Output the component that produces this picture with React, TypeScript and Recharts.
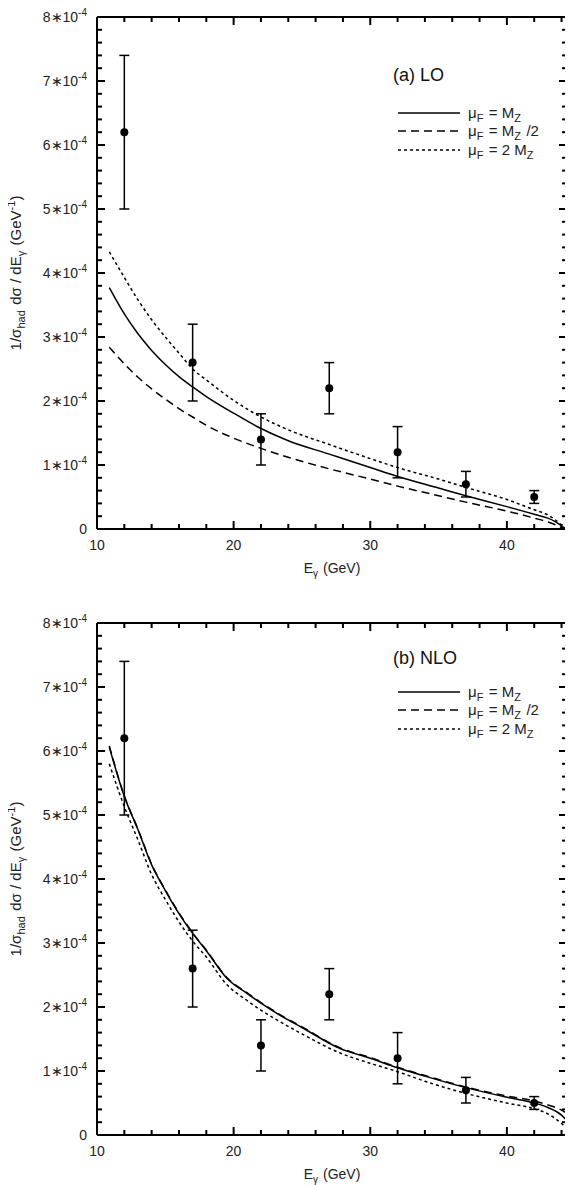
import React from 'react';
import { ComposedChart, Line, Scatter, ErrorBar, XAxis, YAxis, ReferenceLine } from 'recharts';

// all cross sections are in units of 1e-4 GeV^-1
const FONT = '"Liberation Sans", Arial, sans-serif';

// measured points (same in both panels)
const DATA_E = [12, 17, 22, 27, 32, 37, 42];
const DATA_VAL = [6.2, 2.6, 1.4, 2.2, 1.2, 0.7, 0.5];
const DATA_ERR = [1.2, 0.6, 0.4, 0.4, 0.4, 0.2, 0.1];

// (a) LO curves
const LO_E = [10.9, 12, 13, 14, 15, 16, 17, 18, 20, 22, 24, 27, 30, 32, 35, 37, 40, 42, 43, 43.5, 44];
const LO_MZ = [3.77, 3.36, 3.05, 2.79, 2.57, 2.38, 2.22, 2.07, 1.81, 1.57, 1.38, 1.17, 0.96, 0.82, 0.64, 0.52, 0.35, 0.23, 0.17, 0.12, 0.05];
const LO_HALF = [2.84, 2.58, 2.37, 2.19, 2.03, 1.88, 1.75, 1.62, 1.42, 1.26, 1.12, 0.94, 0.78, 0.67, 0.52, 0.42, 0.28, 0.17, 0.11, 0.07, 0.02];
const LO_TWICE = [4.33, 3.93, 3.58, 3.27, 3.0, 2.75, 2.5, 2.33, 2.01, 1.75, 1.55, 1.32, 1.1, 0.96, 0.78, 0.65, 0.46, 0.3, 0.22, 0.15, 0.06];
const LO_END = [44.3, 44.2, 44.35]; // where each LO curve reaches zero

// (b) NLO curves
const NLO_E = [10.9, 12, 13, 14, 15, 16, 17, 18, 19.5, 21, 22, 23.4, 25, 27.8, 30, 32, 34, 37, 40, 42, 43, 44, 44.4];
const NLO_MZ = [6.06, 5.29, 4.77, 4.22, 3.82, 3.46, 3.15, 2.88, 2.45, 2.21, 2.06, 1.87, 1.68, 1.35, 1.2, 1.05, 0.92, 0.74, 0.59, 0.5, 0.43, 0.31, 0.22];
const NLO_HALF = [6.08, 5.3, 4.78, 4.23, 3.83, 3.47, 3.16, 2.89, 2.46, 2.22, 2.07, 1.88, 1.69, 1.36, 1.21, 1.06, 0.93, 0.75, 0.61, 0.53, 0.47, 0.39, 0.34];
const NLO_TWICE = [5.8, 5.13, 4.61, 4.07, 3.68, 3.33, 3.03, 2.78, 2.35, 2.1, 1.95, 1.77, 1.58, 1.28, 1.12, 0.99, 0.84, 0.65, 0.5, 0.41, 0.33, 0.18, 0.1];

const X_MIN = 10;
const X_MAX = 44.4;
const Y_MIN = 0;
const Y_MAX = 8;
const X_TICKS = [10, 12, 14, 16, 18, 20, 22, 24, 26, 28, 30, 32, 34, 36, 38, 40, 42, 44];
const Y_TICKS = Array.from({ length: 41 }, (_, i) => Math.round(i * 2) / 10);
const X_LABELS = [10, 20, 30, 40];
const Y_LABELS = [0, 1, 2, 3, 4, 5, 6, 7, 8];

// inward tick lengths, in axis units (plot is 470 x 512 px)
const X_UNIT_PX = 470 / (X_MAX - X_MIN);
const Y_UNIT_PX = 512 / (Y_MAX - Y_MIN);
const isMajorY = (v: number) => Math.abs(v - Math.round(v)) < 1e-6;
const isMajorX = (v: number) => v % 10 === 0;
const lenOnY = (v: number) => (isMajorX(v) ? 8 : 5) / Y_UNIT_PX;
const lenOnX = (v: number) => (isMajorY(v) ? 8 : 5) / X_UNIT_PX;

const pts = (xs: number[], vs: number[], end?: number) => {
  const p = xs.map((e, i) => ({ e, v: vs[i] }));
  if (end !== undefined) p.push({ e: end, v: 0 });
  return p;
};

const points = DATA_E.map((e, i) => ({ e, v: DATA_VAL[i], err: DATA_ERR[i] }));

const BottomLabel = ({ x, y, payload }: any) => (
  <text x={x} y={y + 21} textAnchor="middle" fontSize={14} fontFamily={FONT} fill="#222">
    {payload.value}
  </text>
);

const LeftLabel = ({ x, y, payload }: any) => {
  const v = payload.value;
  return (
    <text x={x - 10} y={y + 5} textAnchor="end" fontSize={14} fontFamily={FONT} fill="#222">
      {v === 0 ? '0' : `${v}\u221710`}
      {v !== 0 && (
        <tspan dy={-6} fontSize={10}>
          -4
        </tspan>
      )}
    </text>
  );
};

const Sub = ({ children, size = 10 }: any) => (
  <>
    <tspan dy={4} fontSize={size}>
      {children}
    </tspan>
    <tspan dy={-4}>{'\u200a'}</tspan>
  </>
);

const LegendRow = ({ y, dash, children }: any) => (
  <g>
    <line x1={390} x2={452} y1={y} y2={y} stroke="#000" strokeWidth={1.5} strokeDasharray={dash} />
    <text x={460} y={y + 5} fontSize={15} fontFamily={FONT} fill="#222">
      {children}
    </text>
  </g>
);

const AXIS_LINE = { stroke: '#000', strokeWidth: 2 };

const seg = (key: string, a: any, b: any) => (
  <ReferenceLine key={key} xAxisId="b" yAxisId="l" segment={[a, b]} stroke="#000" strokeWidth={2} ifOverflow="visible" />
);

function Panel({ title, solid, half, twice, height, top, bottom, titleY, rowsY }: any) {
  const plotBottom = height - bottom - 40;
  const plotMid = (top + plotBottom) / 2;
  const line = (data: any, dash?: string) => (
    <Line
      data={data}
      xAxisId="b"
      yAxisId="l"
      dataKey="v"
      type="monotone"
      stroke="#000"
      strokeWidth={1.5}
      strokeDasharray={dash}
      dot={false}
      isAnimationActive={false}
    />
  );
  return (
    <div style={{ position: 'relative', width: 565, height }}>
      <ComposedChart width={565} height={height} margin={{ top, right: 6, bottom, left: 0 }}>
        <XAxis
          xAxisId="b"
          dataKey="e"
          type="number"
          domain={[X_MIN, X_MAX]}
          ticks={X_LABELS}
          interval={0}
          allowDataOverflow
          height={40}
          tickSize={0}
          tickMargin={0}
          tickLine={false}
          axisLine={AXIS_LINE}
          tick={<BottomLabel />}
        />
        <YAxis
          yAxisId="l"
          type="number"
          domain={[Y_MIN, Y_MAX]}
          ticks={Y_LABELS}
          interval={0}
          allowDataOverflow
          width={89}
          tickSize={0}
          tickMargin={0}
          tickLine={false}
          axisLine={AXIS_LINE}
          tick={<LeftLabel />}
        />
        {/* frame: top and right */}
        <ReferenceLine xAxisId="b" yAxisId="l" y={Y_MAX} stroke="#000" strokeWidth={2} ifOverflow="visible" />
        <ReferenceLine xAxisId="b" yAxisId="l" x={X_MAX} stroke="#000" strokeWidth={2} ifOverflow="visible" />
        {/* inward ticks on all four sides */}
        {X_TICKS.map((v) => seg(`xb${v}`, { x: v, y: Y_MIN }, { x: v, y: Y_MIN + lenOnY(v) }))}
        {X_TICKS.map((v) => seg(`xt${v}`, { x: v, y: Y_MAX }, { x: v, y: Y_MAX - lenOnY(v) }))}
        {Y_TICKS.map((v) => seg(`yl${v}`, { x: X_MIN, y: v }, { x: X_MIN + lenOnX(v), y: v }))}
        {Y_TICKS.map((v) => seg(`yr${v}`, { x: X_MAX, y: v }, { x: X_MAX - lenOnX(v), y: v }))}
        {line(solid)}
        {line(half, '8 5')}
        {line(twice, '3 3')}
        <Scatter
          data={points}
          xAxisId="b"
          yAxisId="l"
          dataKey="v"
          fill="#000"
          isAnimationActive={false}
          shape={(p: any) => <circle cx={p.cx} cy={p.cy} r={4} fill="#000" />}
        >
          <ErrorBar dataKey="err" direction="y" width={5} stroke="#000" strokeWidth={1.5} />
        </Scatter>
      </ComposedChart>
      <svg
        width={565}
        height={height}
        style={{ position: 'absolute', left: 0, top: 0, pointerEvents: 'none', overflow: 'visible' }}
      >
        <text x={385} y={titleY} fontSize={18} fontFamily={FONT} fill="#111">
          {title}
        </text>
        <LegendRow y={rowsY[0]} dash={undefined}>
          {'\u03bc'}
          <Sub size={11}>F</Sub> = M<Sub size={11}>Z</Sub>
        </LegendRow>
        <LegendRow y={rowsY[1]} dash="8 5">
          {'\u03bc'}
          <Sub size={11}>F</Sub> = M<Sub size={11}>Z</Sub> /2
        </LegendRow>
        <LegendRow y={rowsY[2]} dash="3 3">
          {'\u03bc'}
          <Sub size={11}>F</Sub> = 2 M<Sub size={11}>Z</Sub>
        </LegendRow>
        <text x={324} y={plotBottom + 44} textAnchor="middle" fontSize={14} fontFamily={FONT} fill="#222">
          E<Sub>{'\u03b3'}</Sub> (GeV)
        </text>
        <text
          x={0}
          y={0}
          transform={`translate(13, ${plotMid}) rotate(-90)`}
          textAnchor="middle"
          fontSize={15}
          fontFamily={FONT}
          fill="#222"
        >
          1/{'\u03c3'}
          <Sub size={11}>had</Sub> d{'\u03c3'} / dE<Sub size={11}>{'\u03b3'}</Sub> (GeV
          <tspan dy={-6} fontSize={11}>
            -1
          </tspan>
          <tspan dy={6}>)</tspan>
        </text>
      </svg>
    </div>
  );
}

export default function App() {
  return (
    <div style={{ width: 565, height: 1177, background: '#fff' }}>
      <Panel
        title="(a) LO"
        solid={pts(LO_E, LO_MZ, LO_END[0])}
        half={pts(LO_E, LO_HALF, LO_END[1])}
        twice={pts(LO_E, LO_TWICE, LO_END[2])}
        height={590}
        top={9}
        bottom={29}
        titleY={73}
        rowsY={[105, 123, 142]}
      />
      <Panel
        title="(b) NLO"
        solid={pts(NLO_E, NLO_MZ)}
        half={pts(NLO_E, NLO_HALF)}
        twice={pts(NLO_E, NLO_TWICE)}
        height={587}
        top={25}
        bottom={10}
        titleY={66}
        rowsY={[94, 112, 131]}
      />
    </div>
  );
}
